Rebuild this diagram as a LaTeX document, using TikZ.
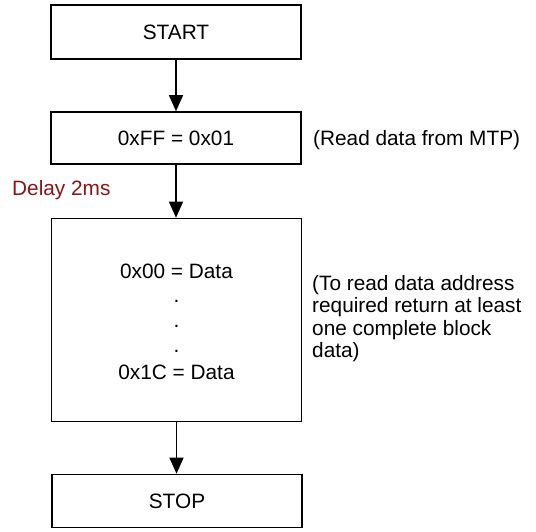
\documentclass[tikz,border=0pt]{standalone}
\usepackage{fontspec}
\setmainfont{Liberation Sans}
\usetikzlibrary{arrows.meta}
\definecolor{delayred}{RGB}{140,20,20}
\begin{document}
\begin{tikzpicture}[x=1pt,y=-1pt,
  box/.style={draw=black,line width=1.6pt,minimum width=250pt,inner sep=0pt,font=\fontsize{20.8}{22.5}\selectfont},
  txt/.style={inner sep=0pt,font=\fontsize{20.8}{22.5}\selectfont},
  arr/.style={line width=1.4pt,-{Triangle[width=14pt,length=16pt]}}]
\useasboundingbox (0,0) rectangle (536,532);
\node[box,minimum height=54pt] (start) at (176,32) {START};
\node[box,minimum height=52pt] (rd) at (176,138) {0xFF = 0x01};
\node[box,minimum height=203pt] (data) at (176.5,320) {};
\node[box,minimum height=53pt] (stop) at (177,501) {STOP};
\node[txt,anchor=base] (d0) at (176.5,278) {0x00 = Data};
\node[txt,anchor=base] (p1) at (176.5,302) {.};
\node[txt,anchor=base] (p2) at (176.5,327) {.};
\node[txt,anchor=base] (p3) at (176.5,352) {.};
\node[txt,anchor=base] (d1) at (176.5,379) {0x1C = Data};
\node[txt,anchor=west] (mtp) at (313,140) {(Read data from MTP)};
\node[txt,anchor=west,text=delayred] (delay) at (12,190) {Delay 2ms};
\node[txt,anchor=north west,align=left] (note) at (312,275) {(To read data address\\required return at least\\one complete block\\data)};
\draw[arr] (start.south) -- (rd.north);
\draw[arr] (rd.south) -- (rd.south |- data.north);
\draw[arr] (data.south) -- (data.south |- stop.north);
\end{tikzpicture}
\end{document}
